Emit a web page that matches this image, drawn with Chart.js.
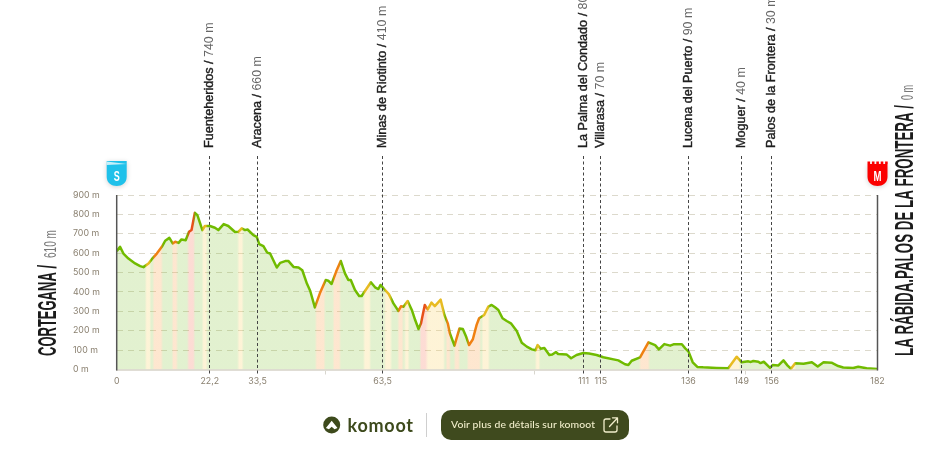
<!DOCTYPE html>
<html><head><meta charset="utf-8">
<style>
html,body{margin:0;padding:0;background:#fff;width:946px;height:467px;overflow:hidden}
#wrap{position:relative;width:946px;height:467px}
canvas{position:absolute;left:0;top:0}
#logo{position:absolute;left:323px;top:416px}
#brand{position:absolute;left:347.5px;top:413px;font:700 18px/24px Lato,sans-serif;color:#3d4a1c;letter-spacing:.75px}
#sep{position:absolute;left:426px;top:413px;width:1px;height:24px;background:#cfcfcf}
#btn{position:absolute;left:441px;top:410px;width:188px;height:30px;border-radius:10px;background:#3f4a1e;color:#f1eecb;font:500 10.4px/29px Lato,sans-serif;letter-spacing:.13px}
#btn span{position:absolute;left:10px;top:0;white-space:nowrap}
#btn svg{position:absolute;left:162px;top:6px}
</style></head><body>
<div id="wrap">
<canvas id="c" width="946" height="467"></canvas>
<svg id="logo" width="18" height="18" viewBox="0 0 18 18"><circle cx="8.7" cy="9" r="8.5" fill="#3d4a1c"/><path d="M8.7 4.8 L14.5 12 L11.5 13.2 L8.7 10.8 L5.9 13.2 L2.9 12 Z" fill="#fff"/></svg>
<div id="brand">komoot</div>
<div id="sep"></div>
<div id="btn"><span>Voir plus de détails sur komoot</span>
<svg width="16" height="18" viewBox="0 0 16 18" fill="none" stroke="#f1eecb" stroke-width="1.3" stroke-linecap="round" stroke-linejoin="round"><path d="M7 3H3a2 2 0 0 0-2 2v9a2 2 0 0 0 2 2h9a2 2 0 0 0 2-2v-4"/><path d="M6.5 10.5L14.5 2M9.5 1.8h5v5"/></svg></div>
</div>
<script src="https://cdn.jsdelivr.net/npm/chart.js@4/dist/chart.umd.min.js"></script>
<script>
const distanceKm = [0,.8,1.6,2.8,4.4,5.6,6.4,7.6,8.4,9.6,10.8,11.6,12.6,13.4,14,14.8,15.5,16.5,17.3,17.9,18.7,19.3,20.5,21.1,22.3,23.5,24.3,25.6,26.7,28.3,29.1,29.9,30.7,31.3,32.7,33.5,34.1,35.1,36,36.7,38.3,39.1,40.3,41.1,42.3,43.5,44.4,45.5,46.3,47.4,48.6,50,50.6,51.4,52.5,53.6,54.6,55.4,56,57,58,58.6,59.4,60.8,61.8,62.6,63.1,64.2,65.1,66.2,67.4,68,68.6,69.6,70.6,71.4,72.2,72.8,73.7,74.4,75.3,76.1,77.5,78.4,79.2,79.7,80.8,82,82.8,83.6,84.3,85.2,86.1,86.7,87.9,88.9,89.7,90.5,91.3,92.3,93.3,94.3,95.7,96.9,98.1,99.3,100.2,100.7,101.4,102.3,103.5,104.2,105.1,105.6,107.6,108.7,110,111.6,113,114.8,116.4,120,121.6,122.4,123.2,125.2,127.2,128.8,129.7,131,132.4,133.2,135.2,136,136.8,137.8,138.9,140.3,143.5,146.3,148.3,149.5,151.1,151.7,152.3,153.5,154,154.8,156.3,156.9,158.3,159.5,160.5,161.3,162.3,164.3,166.3,167.7,169.1,171,172.6,173.8,176.2,177.4,179.4,182];
const elevationM = [610,633,598,572,547,533,528,547,569,598,633,664,679,650,659,653,671,667,710,719,808,796,719,740,740,731,719,750,740,709,710,728,719,722,693,684,647,636,603,598,526,550,559,559,529,526,512,443,405,320,393,462,458,441,505,560,496,462,462,410,379,379,405,450,424,415,436,410,389,341,302,326,324,353,307,255,209,238,333,310,345,327,360,281,238,187,123,212,209,169,126,156,230,264,281,324,333,321,307,264,250,238,199,138,118,104,99,126,107,111,75,77,90,80,78,58,75,85,83,75,63,47,27,23,45,63,140,126,104,131,123,130,130,109,92,37,13,11,8,6,66,37,42,39,44,40,33,40,8,23,21,47,20,4,32,30,37,15,37,35,18,10,8,14,6,3];
const gradeStart = [7,8.8,13.4,17.1,20.6,29.1,47.7,51.9,59.2,64.2,67.4,69,72.7,74.3,76.1,78.9,80.9,84,85.5,87.5,100.3,125.2,146.5,161.3];
const gradeEnd = [8,10.8,14.4,18.5,21.5,30.1,49.7,53.4,60.6,65.6,68.4,69.8,74,75.9,78.3,79.7,81.9,85,86.9,89,101.1,127.3,149,162.3];
const gradeLevel = [1,2,2,3,1,1,2,2,1,1,2,1,3,1,1,2,2,2,2,1,1,2,1,1];
const lineColors = ['#70bb00','#e8bb22','#f08012','#e8501a'];
const fillColors = ['rgba(130,195,50,.23)','rgba(250,210,100,.26)','rgba(250,165,80,.27)','rgba(245,120,90,.26)'];
const wayKm = [22.25,33.7,63.6,111.7,115.8,136.8,149.5,156.7];
const wayNames = ['Fuenteheridos','Aracena','Minas de Riotinto','La Palma del Condado','Villarasa','Lucena del Puerto','Moguer','Palos de la Frontera'];
const wayAlt = ['740 m','660 m','410 m','80 m','70 m','90 m','40 m','30 m'];
const wayTickLabels = ['22,2','33,5','63,5','111','115','136','149','156'];
const minorKm = [50,100,150.5];
const endKm = [0,182];
const startName = 'CORTEGANA /', startAlt = '610 m';
const endName = 'LA RÁBIDA.PALOS DE LA FRONTERA /', endAlt = '0 m';

function gradeGradient(chart, colors){
  const s = chart.scales.x;
  if(!s || !chart.chartArea || !isFinite(s.left) || !isFinite(s.right) || s.right<=s.left) return colors[0];
  const g = chart.ctx.createLinearGradient(s.left,0,s.right,0);
  const off = v => Math.min(1,Math.max(0,v/182));
  g.addColorStop(0,colors[0]);
  gradeStart.forEach((a,i)=>{
    const b = gradeEnd[i], c = colors[gradeLevel[i]];
    const prevEnd = i>0?gradeEnd[i-1]:-1, nextStart = i<gradeStart.length-1?gradeStart[i+1]:999;
    if(a-prevEnd>.5) g.addColorStop(off(a-.3),colors[0]);
    g.addColorStop(off(a+.2),c);
    g.addColorStop(off(b-.2),c);
    if(nextStart-b>.5) g.addColorStop(off(b+.3),colors[0]);
  });
  g.addColorStop(1,colors[0]);
  return g;
}
function rotText(ctx,x,y,parts){
  ctx.save();ctx.translate(x,y);ctx.rotate(-Math.PI/2);ctx.textAlign='left';ctx.textBaseline='alphabetic';
  let p=0;
  parts.forEach(t=>{
    ctx.font=t.font;ctx.fillStyle=t.color;
    const w=t.maxW?Math.min(t.maxW,ctx.measureText(t.text).width):ctx.measureText(t.text).width;
    if(t.maxW) ctx.fillText(t.text,p,0,t.maxW); else ctx.fillText(t.text,p,0);
    if(t.stroke){ctx.strokeStyle=t.color;ctx.lineWidth=t.stroke;ctx.strokeText(t.text,p,0);}
    p+=w;
  });
  ctx.restore();
}
function shield(ctx,cx,color,letter,t){
  const l=cx-10,r=cx+10,b=186;
  ctx.save();
  ctx.shadowColor='rgba(0,0,0,.18)';ctx.shadowBlur=5;ctx.shadowOffsetY=1;
  ctx.fillStyle=color;ctx.beginPath();ctx.moveTo(l,t);ctx.lineTo(r,t);ctx.lineTo(r,177);
  ctx.bezierCurveTo(r,183,cx+5,b,cx,b);ctx.bezierCurveTo(cx-5,b,l,183,l,177);ctx.closePath();ctx.fill();
  ctx.restore();
  ctx.fillStyle='#fff';ctx.font='bold 15px "Liberation Sans"';ctx.textAlign='center';ctx.textBaseline='alphabetic';
  ctx.fillText(letter,cx,180.5,letter==='M'?8:6);
}
const overlay = {
  id:'overlay',
  afterDatasetsDraw(chart){
    const {ctx,scales:{x,y}}=chart;
    ctx.save();
    ctx.strokeStyle='#444';ctx.lineWidth=1;ctx.setLineDash([3,2.5]);
    wayKm.forEach(k=>{const p=Math.floor(x.getPixelForValue(k))+.5;ctx.beginPath();ctx.moveTo(p,156);ctx.lineTo(p,374);ctx.stroke();});
    ctx.setLineDash([]);
    ctx.strokeStyle='#555';ctx.lineWidth=1.5;
    endKm.forEach(k=>{const p=x.getPixelForValue(k);ctx.beginPath();ctx.moveTo(p,y.getPixelForValue(900));ctx.lineTo(p,y.getPixelForValue(0)+1);ctx.stroke();});
    wayKm.forEach((k,i)=>{
      rotText(ctx,x.getPixelForValue(k)+3,148,[
        {text:wayNames[i],font:'12.6px "Liberation Sans"',color:'#1f1f1f',stroke:.4},
        {text:' / ',font:'12.6px "Liberation Sans"',color:'#1f1f1f',stroke:.4},
        {text:wayAlt[i],font:'12.4px "Liberation Sans"',color:'#666'}]);
    });
    rotText(ctx,56,356,[{text:startName,font:'bold 26px "Liberation Sans"',color:'#1b1b1b',maxW:91}]);
    rotText(ctx,56,258,[{text:startAlt,font:'16px "Liberation Sans"',color:'#777',maxW:28}]);
    rotText(ctx,912.5,356,[{text:endName,font:'bold 26px "Liberation Sans"',color:'#1b1b1b',maxW:251}]);
    rotText(ctx,912.5,100,[{text:endAlt,font:'16px "Liberation Sans"',color:'#777',maxW:15}]);
    const sx=x.getPixelForValue(0), mx=x.getPixelForValue(182);
    shield(ctx,sx,'#1fc1ea','S',161);
    ctx.fillStyle='rgba(255,255,255,.75)';ctx.beginPath();ctx.moveTo(sx-10,161.5);ctx.lineTo(sx+10,164);ctx.lineTo(sx-10,165);ctx.closePath();ctx.fill();
    shield(ctx,mx,'#fb0000','M',164);
    ctx.fillStyle='#fb0000';
    [0,1,2,3,4].forEach(i=>ctx.fillRect(mx-10+i*4.4,161.5,2.6,2.6));
    ctx.restore();
  }
};
new Chart(document.getElementById('c'),{
  type:'line',
  data:{datasets:[{
    data:distanceKm.map((k,i)=>({x:k,y:elevationM[i]})),
    borderWidth:2.5,pointRadius:0,tension:0,fill:'origin',borderJoinStyle:'round',
    borderColor:c=>gradeGradient(c.chart,lineColors),
    backgroundColor:c=>gradeGradient(c.chart,fillColors)
  }]},
  plugins:[overlay],
  options:{
    responsive:false,animation:false,devicePixelRatio:1,
    layout:{padding:{left:73,right:68.5,top:195,bottom:0}},
    plugins:{legend:{display:false},tooltip:{enabled:false}},
    scales:{
      x:{type:'linear',min:0,max:182,
        afterFit(a){a.height=97.5;},
        afterBuildTicks(a){a.ticks=[...endKm,...wayKm,...minorKm].sort((p,q)=>p-q).map(v=>({value:v}));},
        border:{display:true,color:'#e0ddd5',width:2},
        grid:{drawOnChartArea:false,drawTicks:true,tickLength:5,tickColor:c=>minorKm.includes(c.tick&&c.tick.value)?'#d8d6ce':'rgba(0,0,0,0)'},
        ticks:{autoSkip:false,maxRotation:0,minRotation:0,padding:2,color:'#8a8070',font:{family:'Inter',size:8.8},
          callback(v){const i=wayKm.indexOf(v);if(i>=0)return wayTickLabels[i];return endKm.includes(v)?String(v):'';}}
      },
      y:{min:0,max:900,
        afterFit(a){a.width=43.7;},
        border:{display:false,dash:[6,5]},
        grid:{drawTicks:false,color:c=>c.tick.value===0?'rgba(0,0,0,0)':'#dcd9cc',lineWidth:1},
        ticks:{stepSize:100,crossAlign:'far',padding:0,color:'#8a8070',font:{family:'Inter',size:8.8},callback:v=>v+' m'}
      }
    }
  }
});
</script>
</body></html>
